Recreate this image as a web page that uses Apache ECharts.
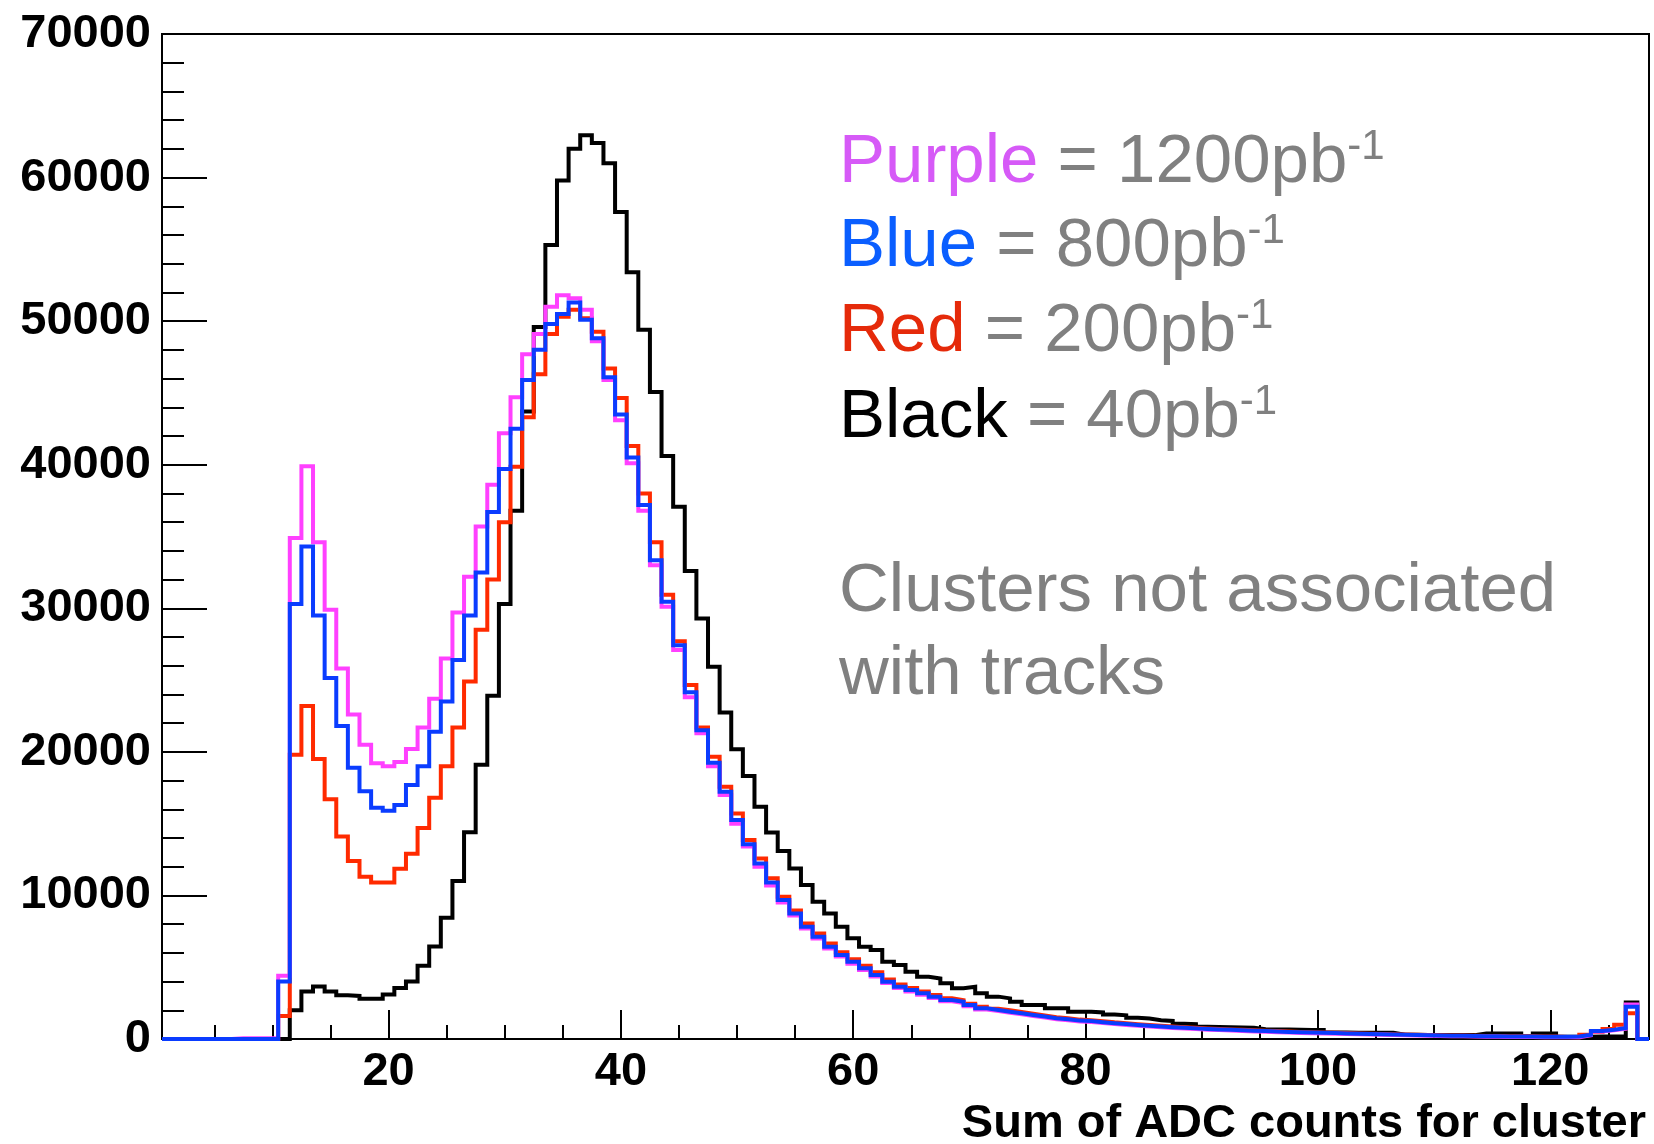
<!DOCTYPE html>
<html>
<head>
<meta charset="utf-8">
<script src="https://cdn.jsdelivr.net/npm/echarts@6/dist/echarts.min.js"></script>
<style>
html,body{margin:0;padding:0;background:#fff;}
#chart{width:1654px;height:1144px;}
</style>
</head>
<body>
<div id="chart"></div>
<script>
// Histogram: 128 bins of width 1, centred on 1..128 (low edge of first bin = 0.5)
const binLow = 0.5;
const binWidth = 1;

// Tick values
const xLabelValues = [20, 40, 60, 80, 100, 120];
const xMinorTickValues = [5,10,15,20,25,30,35,40,45,50,55,60,65,70,75,80,85,90,95,100,105,110,115,120,125];
const yMin = 0, yMax = 70000, yInterval = 10000;

// Purple = 1200 pb^-1
const purple1200 = [
0,0,0,0,0,0,60,60,60,60,
4400,34900,39900,34600,29900,25800,22600,20500,19200,19000,
19300,20200,21700,23700,26500,29700,32200,35700,38600,42200,
44700,47700,49100,51000,51800,51600,50800,48600,45900,43100,
40100,36800,33000,30100,27100,23800,21300,19000,17000,15000,
13400,12000,10700,9500,8600,7700,7000,6300,5750,5250,
4800,4350,3900,3550,3300,3080,2850,2630,2500,2280,
2060,1950,1830,1720,1600,1500,1380,1310,1220,1180,
1110,1040,980,920,870,820,770,730,690,650,
620,590,560,530,500,470,445,425,405,385,
365,345,330,310,290,270,255,240,225,210,
195,185,175,165,155,145,140,135,130,125,
125,130,260,520,600,720,2410,0
];

// Blue = 800 pb^-1
const blue800 = [
0,0,0,0,0,0,0,0,0,0,
4000,30300,34300,29500,25150,21800,18900,17250,16100,15900,
16300,17700,19000,21400,23500,26400,29500,32500,36700,39700,
42500,45900,48000,49800,50500,51300,50100,48800,46100,43500,
40500,37200,33350,30450,27430,24150,21500,19250,17220,15250,
13570,12230,10900,9680,8750,7820,7130,6430,5850,5380,
4920,4460,3990,3640,3410,3180,2950,2720,2600,2370,
2140,2020,1900,1790,1670,1560,1440,1370,1280,1250,
1170,1100,1040,980,920,870,820,780,740,700,
670,640,610,580,550,520,490,470,450,430,
410,390,370,350,330,310,290,275,260,245,
230,220,210,200,190,180,175,170,165,160,
160,170,300,560,640,760,2250,0
];

// Red = 200 pb^-1
const red200 = [
0,0,0,0,0,0,0,0,0,0,
1600,19800,23200,19500,16700,14100,12400,11300,10900,10900,
11850,12900,14700,16800,19000,21700,24900,28500,32000,36000,
39850,43300,46300,49100,50300,50800,50200,49260,46700,44650,
41300,38000,34600,30950,27700,24650,21700,19660,17570,15710,
13860,12580,11190,9900,8950,8050,7350,6650,6050,5550,
5100,4650,4150,3800,3550,3300,3060,2830,2700,2450,
2250,2100,2000,1880,1760,1640,1520,1440,1350,1310,
1240,1160,1100,1030,970,920,870,820,780,740,
700,670,640,610,580,550,520,495,475,455,
430,410,390,370,350,330,310,295,280,265,
250,240,225,215,205,195,190,185,180,175,
140,120,300,500,700,1000,1790,0
];

// Black = 40 pb^-1
const black40 = [
0,0,0,0,0,0,0,0,0,0,
0,2000,3300,3650,3300,3050,3000,2800,2800,3100,
3550,4000,5100,6450,8450,11000,14400,19100,23900,30300,
36800,43700,49600,55300,59800,62000,62950,62400,61000,57600,
53400,49400,45070,40600,37070,32600,29290,25930,22750,20180,
18320,16180,14380,13100,11880,10720,9560,8750,7820,7010,
6430,6200,5380,5150,4690,4340,4220,3880,3530,3640,
3180,2950,2830,2600,2370,2370,2140,2140,1900,1900,
1850,1700,1650,1480,1420,1300,1260,1060,1030,850,
830,810,800,790,680,670,660,640,630,620,
450,450,440,440,430,430,300,290,285,280,
280,275,270,390,390,385,380,200,390,390,
150,150,150,170,170,170,2550,0
];

const FONT = "'Liberation Sans', Arial, Helvetica, sans-serif";

function toSteps(values) {
  const pts = values.map((v, i) => [binLow + i * binWidth, v]);
  pts.push([binLow + values.length * binWidth, values[values.length - 1]]);
  return pts;
}

function histSeries(name, values, color) {
  return {
    name: name,
    type: 'line',
    step: 'end',
    data: toSteps(values),
    showSymbol: false,
    symbol: 'none',
    silent: true,
    animation: false,
    clip: true,
    lineStyle: { color: color, width: 4, join: 'miter', cap: 'butt' }
  };
}

const chart = echarts.init(document.getElementById('chart'), null, { renderer: 'canvas' });

const supStyle = { fontSize: 42, fontFamily: FONT, fill: '#808080', padding: [0, 0, 32, 0] };
const grayStyle = { fontSize: 69, fontFamily: FONT, fill: '#808080' };

function legendLine(word, wordColor, rest, y) {
  return {
    type: 'text',
    x: 839,
    y: y,
    silent: true,
    style: {
      text: '{w|' + word + '}{g| = ' + rest + '}{s|-1}',
      align: 'left',
      verticalAlign: 'middle',
      fill: '#808080',
      rich: {
        w: { fontSize: 69, fontFamily: FONT, fill: wordColor },
        g: grayStyle,
        s: supStyle
      }
    }
  };
}

const option = {
  backgroundColor: '#ffffff',
  animation: false,
  grid: {
    left: 162, right: 5, top: 34, bottom: 105,
    show: true, borderColor: '#000', borderWidth: 2, backgroundColor: 'transparent',
    containLabel: false, outerBoundsMode: 'none'
  },
  xAxis: [
    {
      type: 'value', min: 0.5, max: 128.5, position: 'bottom',
      axisLine: { show: true, lineStyle: { color: '#000', width: 2 } },
      axisTick: { show: true, inside: true, length: 29, customValues: xLabelValues, lineStyle: { color: '#000', width: 2 } },
      axisLabel: { show: true, customValues: xLabelValues, margin: 10, fontSize: 47, fontWeight: 'bold', fontFamily: FONT, color: '#000', formatter: v => String(v) },
      splitLine: { show: false }
    },
    {
      type: 'value', min: 0.5, max: 128.5, position: 'bottom', gridIndex: 0,
      axisLine: { show: false },
      axisTick: { show: true, inside: true, length: 14, customValues: xMinorTickValues, lineStyle: { color: '#000', width: 2 } },
      axisLabel: { show: false },
      splitLine: { show: false }
    }
  ],
  yAxis: {
    type: 'value', min: yMin, max: yMax, interval: yInterval,
    axisLine: { show: true, lineStyle: { color: '#000', width: 2 } },
    axisTick: { show: true, inside: true, length: 45, lineStyle: { color: '#000', width: 2 } },
    minorTick: { show: true, splitNumber: 5, length: 22, lineStyle: { color: '#000', width: 2 } },
    axisLabel: { margin: 11, fontSize: 47, fontWeight: 'bold', fontFamily: FONT, color: '#000', showMinLabel: true, showMaxLabel: true, formatter: v => String(v) },
    splitLine: { show: false },
    minorSplitLine: { show: false }
  },
  series: [
    histSeries('Black = 40pb-1', black40, '#000000'),
    histSeries('Red = 200pb-1', red200, '#ff2a00'),
    histSeries('Purple = 1200pb-1', purple1200, '#ff40ff'),
    histSeries('Blue = 800pb-1', blue800, '#0a3cff')
  ],
  graphic: [
    legendLine('Purple', '#d65af7', '1200pb', 163),
    legendLine('Blue', '#0a5eff', '800pb', 247),
    legendLine('Red', '#e52a0a', '200pb', 332),
    legendLine('Black', '#000000', '40pb', 418),
    {
      type: 'text', x: 839, y: 592, silent: true,
      style: { text: 'Clusters not associated', fontSize: 69, fontFamily: FONT, fill: '#808080', align: 'left', verticalAlign: 'middle' }
    },
    {
      type: 'text', x: 839, y: 675, silent: true,
      style: { text: 'with tracks', fontSize: 69, fontFamily: FONT, fill: '#808080', align: 'left', verticalAlign: 'middle' }
    },
    {
      type: 'text', x: 1646, y: 1124, silent: true,
      style: { text: 'Sum of ADC counts for cluster', fontSize: 47, fontWeight: 'bold', fontFamily: FONT, fill: '#000', align: 'right', verticalAlign: 'middle' }
    }
  ]
};

chart.setOption(option);
</script>
</body>
</html>
